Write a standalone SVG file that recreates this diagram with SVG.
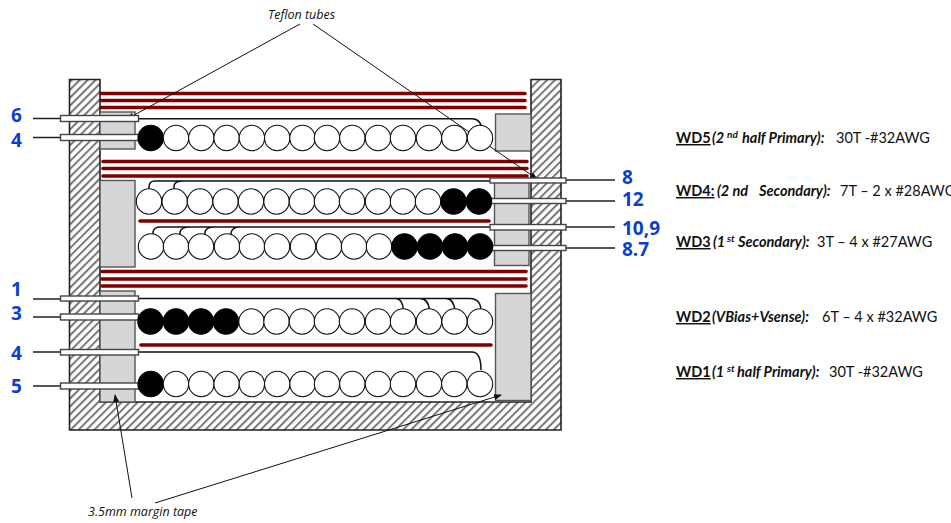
<svg xmlns="http://www.w3.org/2000/svg" width="951" height="523" viewBox="0 0 951 523">
<style>
.tape{fill:#d6d6d6;stroke:#555;stroke-width:1.4}
.red{stroke:#800000;stroke-width:3.6;stroke-linecap:round;fill:none}
.c{fill:#fff;stroke:#111;stroke-width:1.1}
.b{fill:#000;stroke:#000;stroke-width:1.1}
.wire{fill:none;stroke:#111;stroke-width:1.5}
.lead{stroke:#222;stroke-width:1.5;fill:none}
.pin{fill:#fff;stroke:#444;stroke-width:1.4}
.arrow{stroke:#111;stroke-width:1;fill:none;marker-end:url(#ah)}
.cap{font-family:"Open Sans",sans-serif;font-style:italic;font-size:12.5px;fill:#111}
.num{font-family:"Open Sans",sans-serif;font-weight:700;font-size:19px;fill:#0b3fd1}
.wd{font-family:Lato,"Open Sans",sans-serif;font-size:14.5px;fill:#111}
.h{font-weight:700;text-decoration:underline}
.i{font-weight:700;font-style:italic}
.s{font-weight:700;font-style:italic;font-size:10px}
</style>
<defs>
<pattern id="hatch" width="5.6" height="5.6" patternUnits="userSpaceOnUse" patternTransform="rotate(45)">
<rect width="5.6" height="5.6" fill="#fff"/><rect width="2" height="5.6" fill="#777"/>
</pattern>
<marker id="ah" markerWidth="8" markerHeight="6" refX="7" refY="3" orient="auto" markerUnits="userSpaceOnUse"><path d="M0 0L8 3L0 6Z" fill="#111"/></marker>
</defs>
<g id="bobbin">
<path d="M69.500 79.500H100V402H531V79.500H561V430H69.500Z" fill="url(#hatch)" stroke="#222" stroke-width="1.6"/>
</g>
<g id="margin-tape">
<rect class="tape" x="100" y="112" width="35" height="37"/>
<rect class="tape" x="100" y="180.500" width="35" height="86.500"/>
<rect class="tape" x="100" y="291" width="35" height="111"/>
<rect class="tape" x="495.500" y="114" width="35.500" height="37"/>
<rect class="tape" x="494.500" y="180" width="34.500" height="85.500"/>
<rect class="tape" x="495.500" y="293.500" width="35.500" height="107"/>
</g>
<g id="insulation">
<path class="red" d="M101 93.500H525M101 100.500H525M101 107.500H525M103 161.500H527M103 168.500H527M103 176H527M140 221H489M102 271.500H526M102 279H526M102 286H526M141 345H491"/>
</g>
<g id="connectors">
<path class="wire" d="M138 118.700H472Q481 118.700 482 130"/>
<path class="wire" d="M149 192V187Q149 181 155 181H490M174 192V186Q174 181 184 181"/>
<path class="wire" d="M153 236V232Q154 227 160 227H490M180 236V232Q181 227 190 227M205 236V232Q206 227 215 227M231 241V233Q232 227 240 227"/>
<path class="wire" d="M138 298.500H396Q403 299 403.500 311M420 298.500Q429 299 429.500 311M446 298.500Q454 299 455 311M470 298.500Q481 299 481 311M396 298.500H470"/>
<path class="wire" d="M138 352H472Q481 352 481 370"/>
<path class="lead" d="M33 118.500H60M33 137.500H60M33 299H60M33 317H60M33 352H60M33 386H60M566 180H615M566 201H615M566 227H615M566 248H615"/>
<path class="arrow" d="M300 24L127 119"/>
<path class="arrow" d="M313 24L537 179"/>
<path class="arrow" d="M132 498L115 395"/>
<path class="arrow" d="M155 503L501 395"/>
</g>
<g id="pins">
<rect class="pin" x="60.500" y="115.500" width="78" height="6"/>
<rect class="pin" x="60.500" y="134.500" width="78" height="6"/>
<rect class="pin" x="60.500" y="296" width="78" height="5"/>
<rect class="pin" x="60.500" y="314" width="78" height="6"/>
<rect class="pin" x="60.500" y="349.500" width="78" height="5.500"/>
<rect class="pin" x="60.500" y="383" width="78" height="6"/>
<rect class="pin" x="490" y="178" width="76" height="5"/>
<rect class="pin" x="490" y="198.500" width="76" height="5"/>
<rect class="pin" x="490" y="224.500" width="76" height="5.500"/>
<rect class="pin" x="490" y="245.500" width="76" height="5"/>
</g>
<g id="wd5-turns">
<circle class="b" cx="150.700" cy="138" r="12.700"/><circle class="c" cx="176" cy="138" r="12.700"/><circle class="c" cx="201.300" cy="138" r="12.700"/><circle class="c" cx="226.600" cy="138" r="12.700"/><circle class="c" cx="251.900" cy="138" r="12.700"/><circle class="c" cx="277.200" cy="138" r="12.700"/><circle class="c" cx="302.500" cy="138" r="12.700"/><circle class="c" cx="327" cy="138" r="12.700"/><circle class="c" cx="352.300" cy="138" r="12.700"/><circle class="c" cx="378" cy="138" r="12.700"/><circle class="c" cx="403" cy="138" r="12.700"/><circle class="c" cx="429" cy="138" r="12.700"/><circle class="c" cx="454.300" cy="138" r="12.700"/><circle class="c" cx="480" cy="138" r="12.700"/>
</g>
<g id="wd4-turns">
<circle class="c" cx="149" cy="201.500" r="12.700"/><circle class="c" cx="174.700" cy="201.500" r="12.700"/><circle class="c" cx="200" cy="201.500" r="12.700"/><circle class="c" cx="225.500" cy="201.500" r="12.700"/><circle class="c" cx="251" cy="201.500" r="12.700"/><circle class="c" cx="276.500" cy="201.500" r="12.700"/><circle class="c" cx="302" cy="201.500" r="12.700"/><circle class="c" cx="327" cy="201.500" r="12.700"/><circle class="c" cx="352" cy="201.500" r="12.700"/><circle class="c" cx="378" cy="201.500" r="12.700"/><circle class="c" cx="403" cy="201.500" r="12.700"/><circle class="c" cx="428" cy="201.500" r="12.700"/><circle class="b" cx="453.500" cy="201.500" r="12.700"/><circle class="b" cx="479" cy="201.500" r="12.700"/>
</g>
<g id="wd3-turns">
<circle class="c" cx="151" cy="246.500" r="12.700"/><circle class="c" cx="176" cy="246.500" r="12.700"/><circle class="c" cx="201" cy="246.500" r="12.700"/><circle class="c" cx="227" cy="246.500" r="12.700"/><circle class="c" cx="252" cy="246.500" r="12.700"/><circle class="c" cx="277" cy="246.500" r="12.700"/><circle class="c" cx="303" cy="246.500" r="12.700"/><circle class="c" cx="329" cy="246.500" r="12.700"/><circle class="c" cx="354" cy="246.500" r="12.700"/><circle class="c" cx="379" cy="246.500" r="12.700"/><circle class="b" cx="404.500" cy="246.500" r="12.700"/><circle class="b" cx="430" cy="246.500" r="12.700"/><circle class="b" cx="455" cy="246.500" r="12.700"/><circle class="b" cx="480" cy="246.500" r="12.700"/>
</g>
<g id="wd2-turns">
<circle class="b" cx="150.500" cy="321.500" r="12.700"/><circle class="b" cx="176" cy="321.500" r="12.700"/><circle class="b" cx="201" cy="321.500" r="12.700"/><circle class="b" cx="226" cy="321.500" r="12.700"/><circle class="c" cx="251.500" cy="321.500" r="12.700"/><circle class="c" cx="276.500" cy="321.500" r="12.700"/><circle class="c" cx="302" cy="321.500" r="12.700"/><circle class="c" cx="327" cy="321.500" r="12.700"/><circle class="c" cx="352" cy="321.500" r="12.700"/><circle class="c" cx="378" cy="321.500" r="12.700"/><circle class="c" cx="403" cy="321.500" r="12.700"/><circle class="c" cx="429" cy="321.500" r="12.700"/><circle class="c" cx="454.500" cy="321.500" r="12.700"/><circle class="c" cx="480" cy="321.500" r="12.700"/>
</g>
<g id="wd1-turns">
<circle class="b" cx="150.700" cy="384" r="12.700"/><circle class="c" cx="176" cy="384" r="12.700"/><circle class="c" cx="201.300" cy="384" r="12.700"/><circle class="c" cx="226.600" cy="384" r="12.700"/><circle class="c" cx="251.900" cy="384" r="12.700"/><circle class="c" cx="277.200" cy="384" r="12.700"/><circle class="c" cx="302.500" cy="384" r="12.700"/><circle class="c" cx="327" cy="384" r="12.700"/><circle class="c" cx="352.300" cy="384" r="12.700"/><circle class="c" cx="378" cy="384" r="12.700"/><circle class="c" cx="403" cy="384" r="12.700"/><circle class="c" cx="429" cy="384" r="12.700"/><circle class="c" cx="454.300" cy="384" r="12.700"/><circle class="c" cx="480" cy="384" r="12.700"/>
</g>
<g id="captions">
<text class="cap" x="268" y="19">Teflon tubes</text>
<text class="cap" x="88" y="516">3.5mm margin tape</text>
</g>
<g id="pin-numbers">
<text class="num" x="11" y="122">6</text>
<text class="num" x="11" y="147">4</text>
<text class="num" x="11" y="296">1</text>
<text class="num" x="11" y="320">3</text>
<text class="num" x="11" y="360">4</text>
<text class="num" x="11" y="393">5</text>
<text class="num" x="622" y="184">8</text>
<text class="num" x="622" y="206">12</text>
<text class="num" x="622" y="235">10,9</text>
<text class="num" x="622" y="256">8.7</text>
</g>
<g id="winding-specs">
<text class="wd" y="143"><tspan class="h" x="676">WD5</tspan><tspan class="i" x="712">(2</tspan><tspan class="s" x="727" dy="-5">nd</tspan><tspan class="i" x="742" dy="5">half Primary):</tspan><tspan x="836">30T -#32AWG</tspan></text>
<text class="wd" y="196"><tspan class="h" x="676">WD4:</tspan><tspan class="i" x="717">(2 nd</tspan><tspan class="i" x="759">Secondary):</tspan><tspan x="840">7T – 2 x #28AWG</tspan></text>
<text class="wd" y="247"><tspan class="h" x="676">WD3</tspan><tspan class="i" x="713">(1</tspan><tspan class="s" x="727" dy="-5">st</tspan><tspan class="i" x="738" dy="5">Secondary):</tspan><tspan x="817">3T – 4 x #27AWG</tspan></text>
<text class="wd" y="322"><tspan class="h" x="676">WD2</tspan><tspan class="i" x="712">(VBias+Vsense):</tspan><tspan x="822">6T – 4 x #32AWG</tspan></text>
<text class="wd" y="377"><tspan class="h" x="676">WD1</tspan><tspan class="i" x="712">(1</tspan><tspan class="s" x="727" dy="-5">st</tspan><tspan class="i" x="737" dy="5">half Primary):</tspan><tspan x="829">30T -#32AWG</tspan></text>
</g>
</svg>
